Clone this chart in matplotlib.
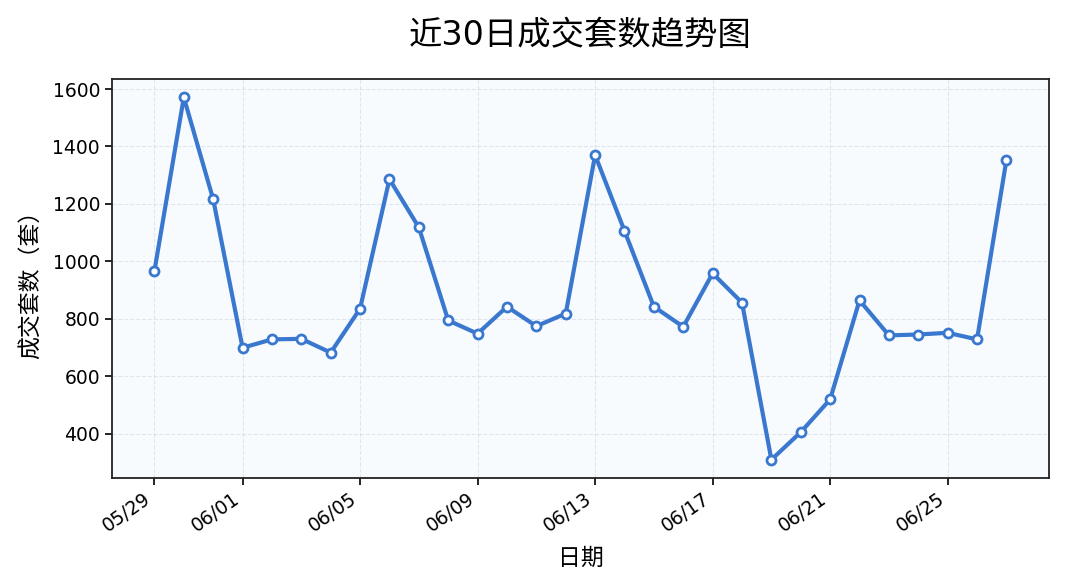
import datetime as dt
import matplotlib
matplotlib.use("Agg")
import matplotlib.pyplot as plt
import matplotlib.dates as mdates

plt.rcParams['font.family'] = ['DejaVu Sans', 'Noto Sans CJK SC']

# 近30日成交套数
start = dt.date(2024, 5, 29)
dates = [start + dt.timedelta(days=i) for i in range(30)]
counts = [966, 1571, 1216, 699, 728, 730, 682, 835, 1286, 1118,
          794, 748, 842, 774, 818, 1370, 1106, 842, 772, 958,
          856, 309, 405, 519, 864, 742, 745, 751, 728, 1353]

fig = plt.figure(figsize=(10.65, 5.87), dpi=100)
ax = fig.add_axes([0.105, 0.186, 0.88, 0.679])
ax.set_facecolor('#f8fbfe')

ax.plot(dates, counts, color='#3a78d0', linewidth=3, marker='o', markersize=6.5,
        markerfacecolor='white', markeredgecolor='#3a78d0', markeredgewidth=2)

ax.grid(True, linestyle='--', color='#c8d0dc', alpha=0.5, linewidth=0.8)
ax.xaxis.set_major_locator(mdates.DayLocator(bymonthday=range(1, 32, 4)))
ax.xaxis.set_major_formatter(mdates.DateFormatter('%m/%d'))
plt.setp(ax.get_xticklabels(), rotation=35, ha='right')
ax.tick_params(labelsize=13.5, length=5, width=1.2)
for s in ax.spines.values():
    s.set_linewidth(1.3)
    s.set_color('#222222')

ax.set_yticks([400, 600, 800, 1000, 1200, 1400, 1600])
ax.set_xlabel('日期', fontsize=16.5, labelpad=8)
ax.set_ylabel('成交套数（套）', fontsize=16.5, labelpad=7)
ax.set_title('近30日成交套数趋势图', fontsize=24, pad=25)

fig.savefig('out.png', dpi=100)
